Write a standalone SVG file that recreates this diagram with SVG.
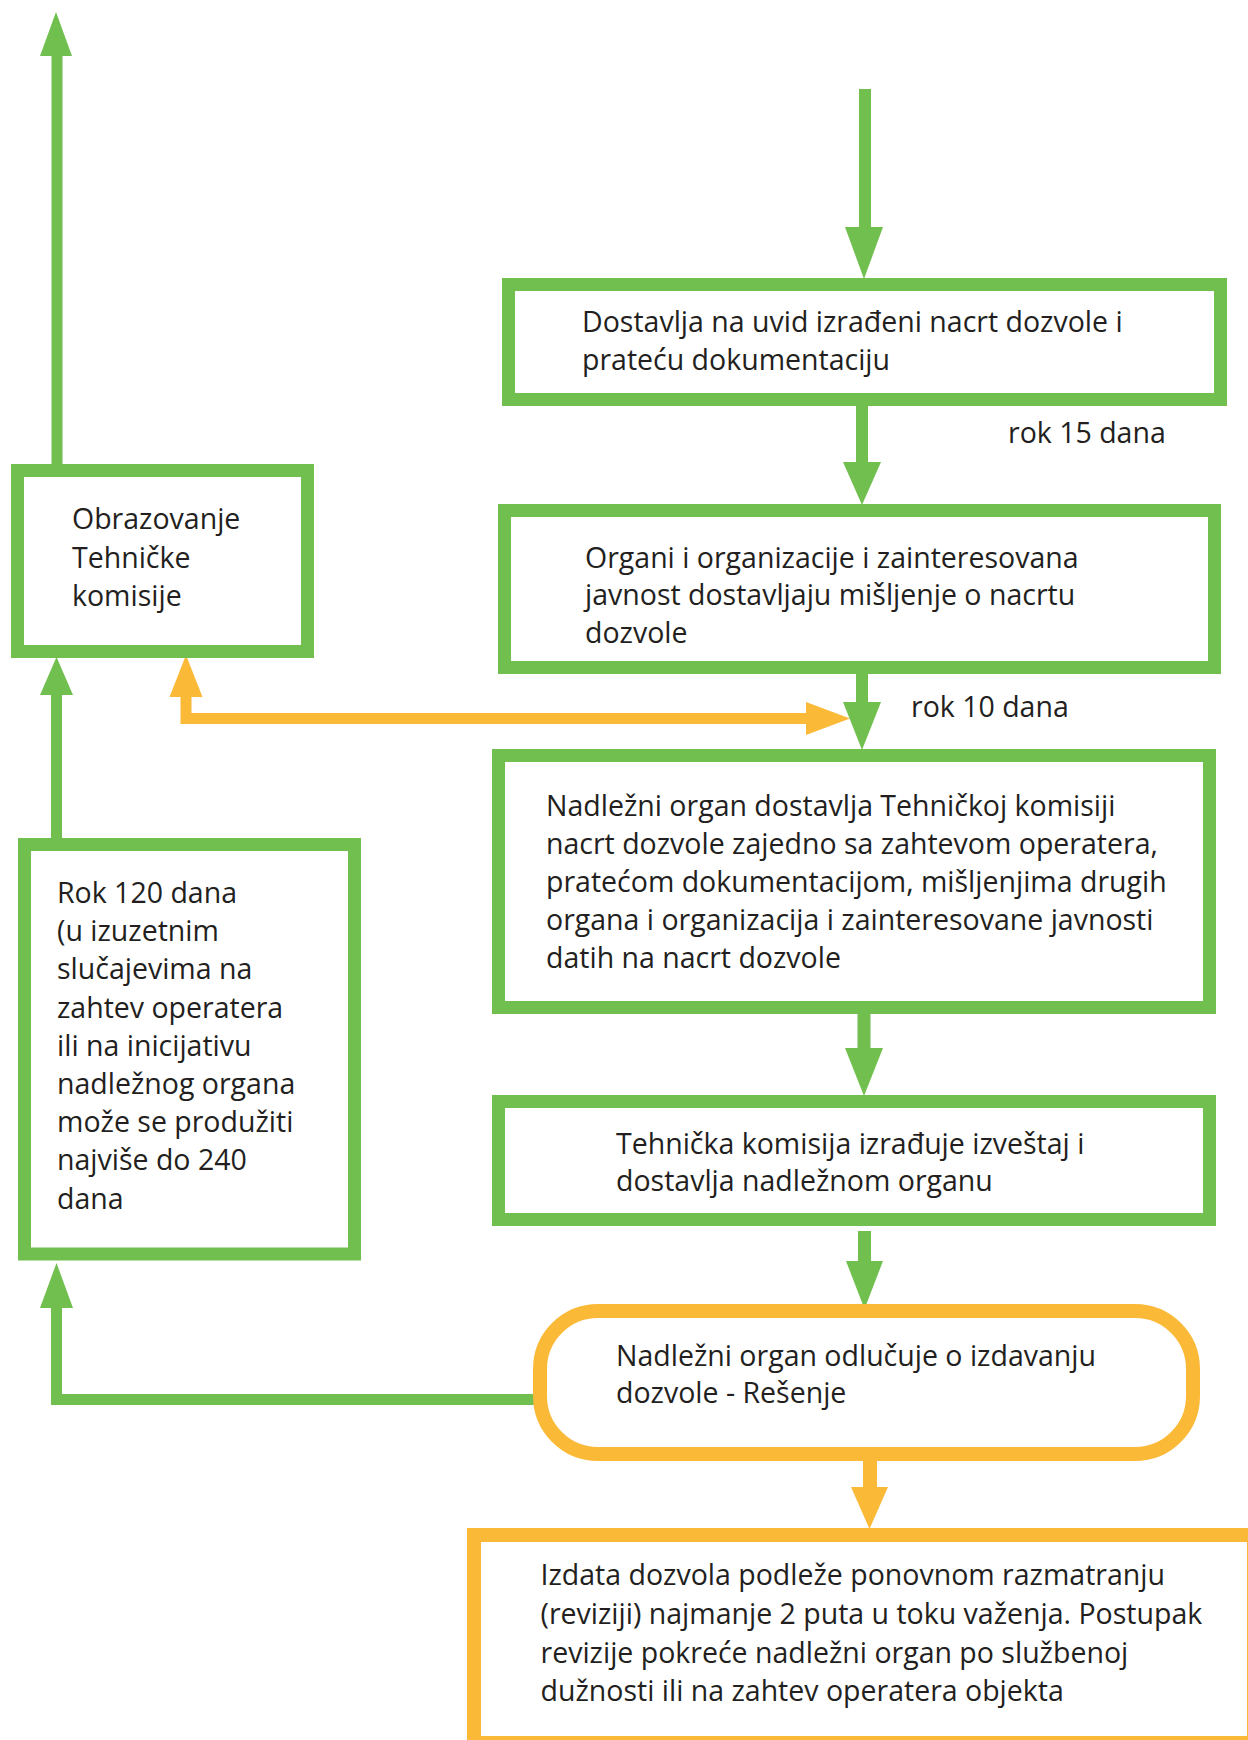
<svg xmlns="http://www.w3.org/2000/svg" width="1248" height="1740" viewBox="0 0 1248 1740">
  <style>
    .box { fill: #ffffff; stroke: #71bf4f; stroke-width: 13; }
    .box-y { fill: #ffffff; stroke: #fbb938; stroke-width: 14; }
    .t { font-family: "Open Sans", "Noto Sans", "Liberation Sans", sans-serif; font-size: 28.5px; fill: #231f20; }
    .ln-g { fill: none; stroke: #71bf4f; stroke-width: 11; stroke-linejoin: miter; }
    .ln-y { fill: none; stroke: #fbb938; stroke-width: 11; stroke-linejoin: miter; }
    .hd-g { fill: #71bf4f; }
    .hd-y { fill: #fbb938; }
  </style>
  <rect width="1248" height="1740" fill="#ffffff"/>

  <!-- connectors -->
  <g id="connectors">
    <!-- upward exit from the commission box -->
    <line class="ln-g" x1="57" y1="466" x2="57" y2="54"/>
    <polygon class="hd-g" points="56,12 72,56 40,56"/>

    <!-- deadline box up to commission box -->
    <line class="ln-g" x1="56.5" y1="840" x2="56.5" y2="693"/>
    <polygon class="hd-g" points="56.5,657 73,695 40,695"/>

    <!-- two-way yellow link -->
    <path class="ln-y" d="M186 695 V718.5 H808"/>
    <polygon class="hd-y" points="186,655 202.5,697 169.5,697"/>
    <polygon class="hd-y" points="850,718.5 806,702 806,735"/>

    <!-- entry arrow at top -->
    <line style="stroke:#71bf4f;stroke-width:12" x1="865" y1="89" x2="865" y2="229"/>
    <polygon class="hd-g" points="864,279 883,227 845,227"/>

    <!-- box 1 to box 2 -->
    <line style="stroke:#71bf4f;stroke-width:12" x1="862" y1="406" x2="862" y2="464"/>
    <polygon class="hd-g" points="862,505 881,462 843,462"/>

    <!-- box 2 to box 3 -->
    <line style="stroke:#71bf4f;stroke-width:12" x1="862" y1="674" x2="862" y2="704"/>
    <polygon class="hd-g" points="862,750 881,702 843,702"/>

    <!-- box 3 to box 4 -->
    <line style="stroke:#71bf4f;stroke-width:13" x1="864" y1="1014" x2="864" y2="1050"/>
    <polygon class="hd-g" points="864,1096 883,1048 845,1048"/>

    <!-- box 4 to decision -->
    <line style="stroke:#71bf4f;stroke-width:13" x1="864.5" y1="1231" x2="864.5" y2="1263"/>
    <polygon class="hd-g" points="864.5,1309 883,1261 846,1261"/>

    <!-- decision back to deadline box -->
    <path class="ln-g" d="M538 1399.5 H56.5 V1306"/>
    <polygon class="hd-g" points="56.5,1263 73,1308 40,1308"/>

    <!-- decision to issued permit -->
    <line style="stroke:#fbb938;stroke-width:14" x1="870" y1="1461" x2="870" y2="1489"/>
    <polygon class="hd-y" points="869.5,1529 888,1487 851,1487"/>

    <text class="t" x="1008" y="443">rok 15 dana</text>
    <text class="t" x="911" y="717">rok 10 dana</text>
  </g>

  <g id="obrazovanje">
    <rect class="box" x="17.5" y="470.5" width="290" height="181"/>
    <text class="t" x="72" y="529">Obrazovanje</text>
    <text class="t" x="72" y="567.5">Tehničke</text>
    <text class="t" x="72" y="606">komisije</text>
  </g>

  <g id="rok-120">
    <rect class="box" x="24.5" y="844.5" width="330" height="409.5"/>
    <text class="t" x="57" y="903">Rok 120 dana</text>
    <text class="t" x="57" y="941.2">(u izuzetnim</text>
    <text class="t" x="57" y="979.4">slučajevima na</text>
    <text class="t" x="57" y="1017.6">zahtev operatera</text>
    <text class="t" x="57" y="1055.8">ili na inicijativu</text>
    <text class="t" x="57" y="1094">nadležnog organa</text>
    <text class="t" x="57" y="1132.2">može se produžiti</text>
    <text class="t" x="57" y="1170.4">najviše do 240</text>
    <text class="t" x="57" y="1208.6">dana</text>
  </g>

  <g id="nacrt">
    <rect class="box" x="508.5" y="284.5" width="712" height="115"/>
    <text class="t" x="582" y="332">Dostavlja na uvid izrađeni nacrt dozvole i</text>
    <text class="t" x="582" y="370">prateću dokumentaciju</text>
  </g>

  <g id="misljenje">
    <rect class="box" x="504.5" y="510.5" width="710" height="157"/>
    <text class="t" x="585" y="567.5">Organi i organizacije i zainteresovana</text>
    <text class="t" x="585" y="605">javnost dostavljaju mišljenje o nacrtu</text>
    <text class="t" x="585" y="642.5">dozvole</text>
  </g>

  <g id="dostava-komisiji">
    <rect class="box" x="498.5" y="755.5" width="711" height="252"/>
    <text class="t" x="546" y="816">Nadležni organ dostavlja Tehničkoj komisiji</text>
    <text class="t" x="546" y="854">nacrt dozvole zajedno sa zahtevom operatera,</text>
    <text class="t" x="546" y="892">pratećom dokumentacijom, mišljenjima drugih</text>
    <text class="t" x="546" y="930">organa i organizacija i zainteresovane javnosti</text>
    <text class="t" x="546" y="968">datih na nacrt dozvole</text>
  </g>

  <g id="izvestaj">
    <rect class="box" x="498.5" y="1101.5" width="711" height="118"/>
    <text class="t" x="616" y="1154">Tehnička komisija izrađuje izveštaj i</text>
    <text class="t" x="616" y="1191">dostavlja nadležnom organu</text>
  </g>

  <g id="resenje">
    <rect class="box-y" x="540" y="1311" width="653" height="143" rx="58" ry="58"/>
    <text class="t" x="616" y="1366">Nadležni organ odlučuje o izdavanju</text>
    <text class="t" x="616" y="1403">dozvole - Rešenje</text>
  </g>

  <g id="revizija">
    <rect class="box-y" x="474" y="1535" width="780" height="208"/>
    <text class="t" x="540.5" y="1585">Izdata dozvola podleže ponovnom razmatranju</text>
    <text class="t" x="540.5" y="1624">(reviziji) najmanje 2 puta u toku važenja. Postupak</text>
    <text class="t" x="540.5" y="1663">revizije pokreće nadležni organ po službenoj</text>
    <text class="t" x="540.5" y="1701">dužnosti ili na zahtev operatera objekta</text>
  </g>
</svg>
